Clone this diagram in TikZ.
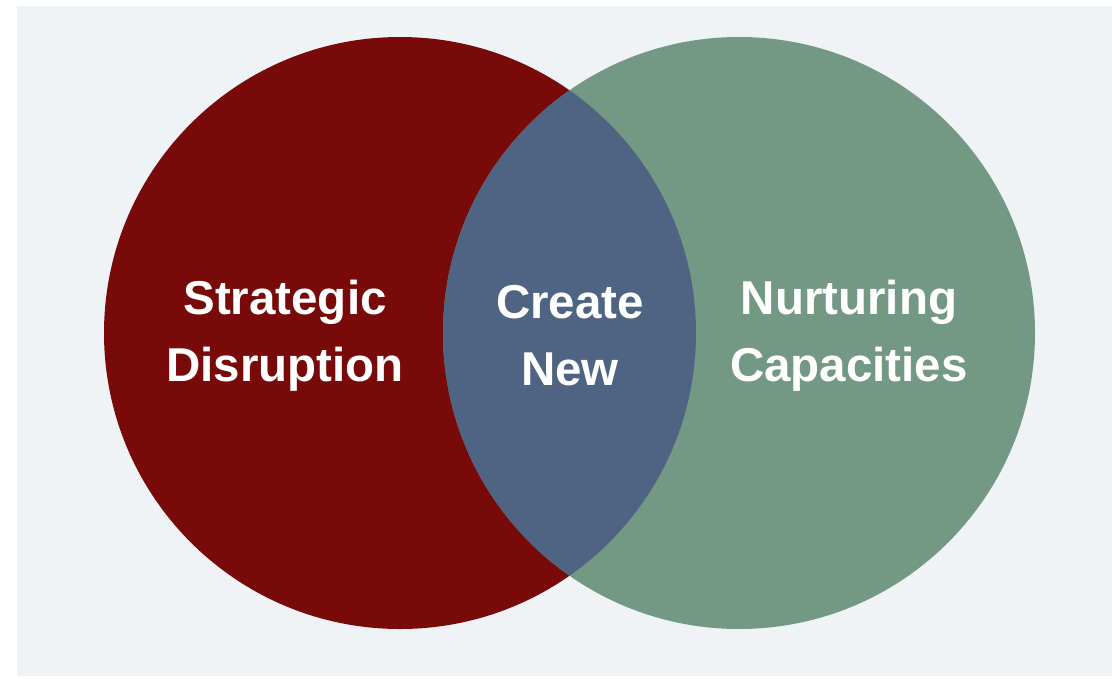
\documentclass[tikz,border=0pt]{standalone}
\usepackage{fontspec}
\setmainfont{Liberation Sans}
\definecolor{bgc}{HTML}{EFF3F6}
\definecolor{redc}{HTML}{780A0A}
\definecolor{greenc}{HTML}{739883}
\definecolor{bluec}{HTML}{4F6482}
\tikzset{lbl/.style={text=white,font=\fontsize{47.5}{67}\selectfont\bfseries,align=center}}
\begin{document}
\begin{tikzpicture}[x=1pt,y=-1pt]
\useasboundingbox (0,0) rectangle (1112,678);
\fill[bgc] (17,6) rectangle (1112,676);
\fill[redc] (400,333) circle[radius=296];
\fill[greenc] (739,333) circle[radius=296];
\begin{scope}
\clip (400,333) circle[radius=296];
\fill[bluec] (739,333) circle[radius=296];
\end{scope}
\node[lbl] (sd) at (285,336) {Strategic\\Disruption};
\node[lbl] (cn) at (570,336) {Create\\New};
\node[lbl] (nc) at (849,336) {Nurturing\\Capacities};
\end{tikzpicture}
\end{document}
